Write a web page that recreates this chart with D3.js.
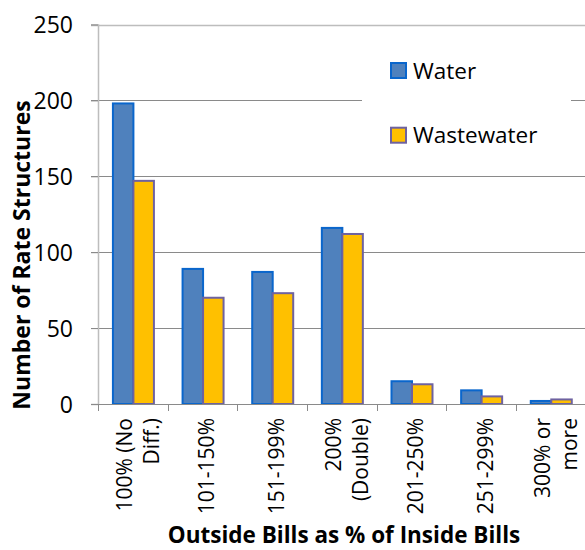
<!DOCTYPE html>
<html>
<head>
<meta charset="utf-8">
<script src="https://cdn.jsdelivr.net/npm/d3@7"></script>
<style>
  html, body { margin: 0; padding: 0; background: #fff; }
  svg { display: block; }
  text { font-family: "Open Sans", Lato, sans-serif; fill: #000; }
</style>
</head>
<body>
<svg id="chart" width="585" height="550"></svg>
<script>
const categories = ["100% (No Diff.)", "101-150%", "151-199%", "200% (Double)", "201-250%", "251-299%", "300% or more"];
const categoryLines = [["100% (No", "Diff.)"], ["101-150%"], ["151-199%"], ["200%", "(Double)"], ["201-250%"], ["251-299%"], ["300% or", "more"]];
const seriesNames = ["Water", "Wastewater"];
const waterValues = [198, 89, 87, 116, 15, 9, 2];
const wastewaterValues = [147, 70, 73, 112, 13, 5, 3];
const yTicks = [0, 50, 100, 150, 200, 250];
const xTitle = "Outside Bills as % of Inside Bills";
const yTitle = "Number of Rate Structures";

const fills = { Water: "#4F81BD", Wastewater: "#FFC000" };
const strokes = { Water: "#0A66CC", Wastewater: "#6E62A0" };

const svg = d3.select("#chart");
const mLeft = 98, mRight = 585.5, mTop = 24.5, mBottom = 404;

const x = d3.scaleBand().domain(categories).range([mLeft, mRight]).padding(0);
const y = d3.scaleLinear().domain([0, 250]).range([mBottom, mTop]);
const bw = x.bandwidth();
const groupW = 41;
const x1 = d3.scaleBand().domain(seriesNames).range([(bw - groupW) / 2 + 0.6, (bw + groupW) / 2 + 0.6]).padding(0);

// gridlines
svg.append("g").selectAll("line").data(yTicks.filter(d => d > 0)).join("line")
  .attr("x1", mLeft - 7).attr("x2", mRight)
  .attr("y1", d => Math.round(y(d)) + 0.5).attr("y2", d => Math.round(y(d)) + 0.5)
  .attr("stroke", d => d === 250 ? "#BDBDBD" : "#8A8A8A")
  .attr("stroke-width", d => d === 250 ? 1.5 : 1);

// y axis
const yAxis = d3.axisLeft(y).tickValues(yTicks).tickSize(7).tickPadding(18).tickFormat(d3.format("d"));
const ya = svg.append("g").attr("transform", `translate(${mLeft},0)`).call(yAxis);
ya.select(".domain").attr("stroke", "#BDBDBD").attr("stroke-width", 1.5);
ya.selectAll(".tick line").attr("stroke", "#8A8A8A");
ya.selectAll(".tick text").style("font-size", "23px").style("font-family", "'Open Sans'").attr("fill", "#000").attr("dy", "0.36em");

// legend background
const legend = svg.append("g");
legend.append("rect").attr("x", 362).attr("y", 40).attr("width", 209).attr("height", 125).attr("fill", "#fff");

// bars
const data = categories.map((c, i) => ({ c, vals: [{ s: "Water", v: waterValues[i] }, { s: "Wastewater", v: wastewaterValues[i] }] }));
const groups = svg.append("g").selectAll("g").data(data).join("g")
  .attr("transform", d => `translate(${x(d.c)},0)`);
groups.selectAll("rect").data(d => d.vals).join("rect")
  .attr("x", d => x1(d.s))
  .attr("width", x1.bandwidth())
  .attr("y", d => y(d.v))
  .attr("height", d => y(0) - y(d.v))
  .attr("fill", d => fills[d.s])
  .attr("stroke", d => strokes[d.s])
  .attr("stroke-width", 2);

// x axis
const xAxisLine = svg.append("g");
xAxisLine.append("line").attr("x1", mLeft).attr("x2", mRight).attr("y1", mBottom + 0.5).attr("y2", mBottom + 0.5).attr("stroke", "#8A8A8A");
const boundaries = categories.map(c => x(c)).concat([mRight]);
xAxisLine.selectAll("line.tk").data(boundaries).join("line").attr("class", "tk")
  .attr("x1", d => Math.round(d) + 0.5).attr("x2", d => Math.round(d) + 0.5)
  .attr("y1", mBottom).attr("y2", mBottom + 7).attr("stroke", "#8A8A8A");

// x tick labels
const xl = svg.append("g");
categories.forEach((c, i) => {
  const lines = categoryLines[i];
  const cx = x(c) + bw / 2;
  lines.forEach((ln, j) => {
    const bx = lines.length === 1 ? cx + 12 : cx - 1 + j * 27;
    xl.append("text")
      .attr("transform", `translate(${bx},418) rotate(-90)`)
      .attr("text-anchor", "end")
      .style("font-size", "21px")
      .text(ln);
  });
});

// legend items
seriesNames.forEach((s, i) => {
  const ly = 62 + i * 64.7;
  legend.append("rect").attr("x", 391).attr("y", ly + 1).attr("width", 15).attr("height", 15)
    .attr("fill", fills[s]).attr("stroke", strokes[s]).attr("stroke-width", 2);
  legend.append("text").attr("x", 413).attr("y", ly + 16.5).style("font-size", "22.5px").text(s);
});

// axis titles
svg.append("text").attr("x", 344).attr("y", 543).attr("text-anchor", "middle")
  .style("font-size", "22.5px").style("font-weight", "bold").text(xTitle);
svg.append("text").attr("transform", "translate(30,255) rotate(-90)").attr("text-anchor", "middle")
  .style("font-size", "23px").style("font-weight", "bold").text(yTitle);
</script>
</body>
</html>
